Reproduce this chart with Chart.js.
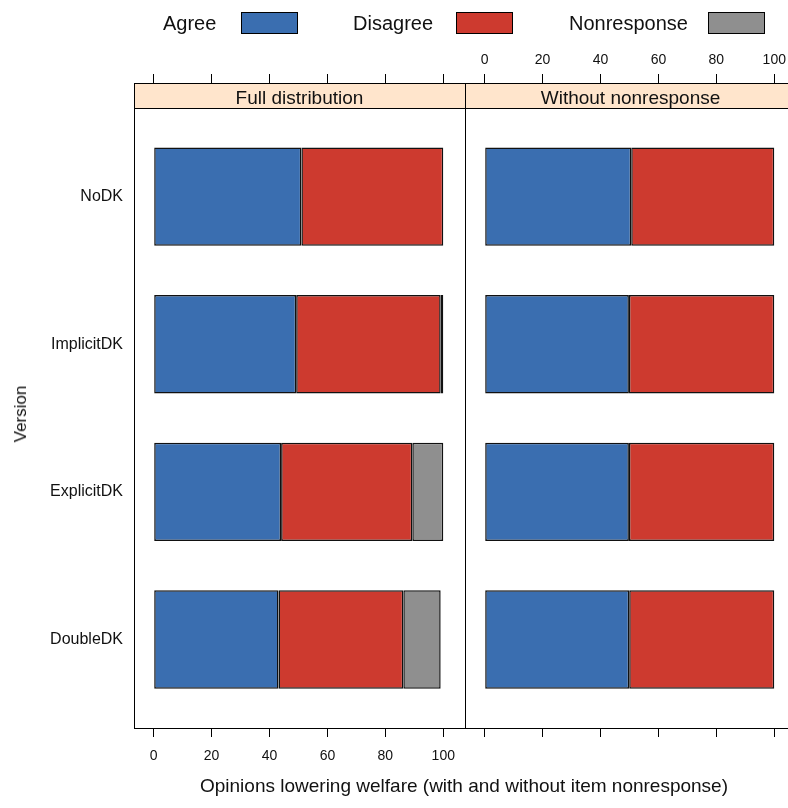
<!DOCTYPE html>
<html>
<head>
<meta charset="utf-8">
<script src="https://cdn.jsdelivr.net/npm/chart.js@4/dist/chart.umd.min.js"></script>
<style>
  html, body { margin:0; padding:0; background:#fff; }
  body { position:relative; width:788px; height:808px; overflow:hidden;
         font-family:"Liberation Sans", Arial, sans-serif; color:#111; }
  canvas { position:absolute; top:0; }
  .txt { position:absolute; white-space:nowrap; }
  .lbox { position:absolute; box-sizing:border-box; border:1px solid #000; }
</style>
</head>
<body>
<canvas id="c1" width="470" height="808" style="left:0px"></canvas>
<canvas id="c2" width="340" height="808" style="left:464px"></canvas>
<div id="legend"></div>
<div id="xtitle" class="txt" style="left:464px; top:774px; font-size:19px; line-height:23px; transform:translateX(-50%);"></div>
<div id="ytitle" class="txt" style="left:21px; top:414px; font-size:17px; line-height:20px; transform:translate(-50%,-50%) rotate(-90deg);"></div>
<script>
// ---------------- data ----------------
const versions = ['NoDK', 'ImplicitDK', 'ExplicitDK', 'DoubleDK'];
const seriesNames = ['Agree', 'Disagree', 'Nonresponse'];
const panelTitles = ['Full distribution', 'Without nonresponse'];
const xTicks = [0, 20, 40, 60, 80, 100];

const fullAgree       = [51.0, 49.2, 44.0, 43.1];
const fullDisagree    = [49.0, 49.9, 45.3, 43.1];
const fullNonresponse = [0.0,  0.9,  10.7, 12.9];

const withoutAgree    = [50.6, 49.8, 49.8, 49.9];
const withoutDisagree = [49.4, 50.2, 50.2, 50.1];

const xTitle = 'Opinions lowering welfare (with and without item nonresponse)';
const yTitle = 'Version';

// ---------------- styles ----------------
const colors = ['#3A6EB0', '#CD3A2F', '#8F8F8F'];
const FONT = '"Liberation Sans", Arial, sans-serif';
Chart.defaults.font.family = FONT;
Chart.defaults.color = '#111';

const X_MIN = -6.8, X_MAX = 107.5;
const Y_PANEL_MIN = -0.6, Y_MIN = -0.77, Y_MAX = 3.6;   // strip occupies Y_MIN..Y_PANEL_MIN

// ---------------- legend & titles (HTML text) ----------------
const legendLayout = [
  { text: 163, box: 241 },
  { text: 353, box: 456 },
  { text: 569, box: 708 }
];
const legend = document.getElementById('legend');
seriesNames.forEach((name, i) => {
  const t = document.createElement('div');
  t.className = 'txt';
  t.style.cssText = `left:${legendLayout[i].text}px; top:11px; font-size:20px; line-height:24px;`;
  t.textContent = name;
  legend.appendChild(t);
  const b = document.createElement('div');
  b.className = 'lbox';
  b.style.cssText = `left:${legendLayout[i].box}px; top:12px; width:57px; height:22px; background:${colors[i]};`;
  legend.appendChild(b);
});
document.getElementById('xtitle').textContent = xTitle;
document.getElementById('ytitle').textContent = yTitle;

// ---------------- plugin: strip + frame ----------------
const panelFrame = {
  id: 'panelFrame',
  beforeDatasetsDraw(chart, args, opts) {
    const { ctx, chartArea: a, scales } = chart;
    const sb = Math.round(scales.y.getPixelForValue(Y_PANEL_MIN));
    ctx.save();
    ctx.fillStyle = '#FFE5CC';
    ctx.fillRect(a.left, a.top, a.right - a.left, sb - a.top);
    ctx.strokeStyle = '#000';
    ctx.lineWidth = 1;
    ctx.beginPath();
    ctx.moveTo(a.left, sb + 0.5);
    ctx.lineTo(a.right, sb + 0.5);
    ctx.stroke();
    ctx.fillStyle = '#111';
    ctx.font = '19px ' + FONT;
    ctx.textAlign = 'center';
    ctx.textBaseline = 'alphabetic';
    ctx.fillText(opts.title, (a.left + a.right) / 2, a.top + 21);
    ctx.restore();
  },
  afterDraw(chart) {
    const { ctx, chartArea: a } = chart;
    const l = Math.round(a.left), r = Math.round(a.right), t = Math.round(a.top), b = Math.round(a.bottom);
    ctx.save();
    ctx.strokeStyle = '#000';
    ctx.lineWidth = 1;
    ctx.strokeRect(l + 0.5, t + 0.5, r - l, b - t);
    ctx.restore();
  }
};

function pts(arr) { return arr.map((v, i) => ({ x: v, y: i })); }
function setXTicks(s) { s.ticks = xTicks.map(v => ({ value: v })); }
function setYTicks(s) { s.ticks = versions.map((_, i) => ({ value: i })); }

function xAxis(position, showLabels, height, pad) {
  return {
    type: 'linear', position, stacked: position === 'bottom',
    min: X_MIN, max: X_MAX, offset: false,
    afterBuildTicks: setXTicks,
    afterFit: s => { s.height = height; },
    grid: { drawOnChartArea: false, drawTicks: true, tickLength: 9, color: '#000', lineWidth: 1, offset: false },
    border: { display: false },
    ticks: { display: showLabels, padding: pad, font: { size: 14 }, color: '#111', maxRotation: 0, autoSkip: false }
  };
}

function makeChart(id, datasets, cfg) {
  return new Chart(document.getElementById(id), {
    type: 'bar',
    data: { datasets },
    options: {
      indexAxis: 'y',
      responsive: false,
      animation: false,
      layout: { padding: cfg.padding },
      plugins: { legend: { display: false }, tooltip: { enabled: false }, panelFrame: { title: cfg.title } },
      datasets: { bar: { categoryPercentage: 1, barPercentage: 2 / 3, borderWidth: 1.5, borderColor: '#111', borderSkipped: false, inflateAmount: 0 } },
      scales: {
        x: xAxis('bottom', cfg.bottomLabels, 80, 11),
        x2: xAxis('top', cfg.topLabels, 83, 5),
        y: {
          type: 'linear', reverse: true, stacked: true, display: cfg.showY, offset: false,
          min: Y_MIN, max: Y_MAX,
          afterBuildTicks: setYTicks,
          afterFit: s => { s.width = cfg.showY ? 134 : 0; },
          grid: { display: false, drawTicks: false, offset: false },
          border: { display: false },
          ticks: { padding: 11, font: { size: 16 }, color: '#111', callback: v => versions[v] }
        }
      }
    },
    plugins: [panelFrame]
  });
}

makeChart('c1', [
  { label: seriesNames[0], data: pts(fullAgree), backgroundColor: colors[0] },
  { label: seriesNames[1], data: pts(fullDisagree), backgroundColor: colors[1] },
  { label: seriesNames[2], data: pts(fullNonresponse), backgroundColor: colors[2] }
], { title: panelTitles[0], padding: { left: 0, right: 5, top: 0, bottom: 0 }, bottomLabels: true, topLabels: false, showY: true });

makeChart('c2', [
  { label: seriesNames[0], data: pts(withoutAgree), backgroundColor: colors[0] },
  { label: seriesNames[1], data: pts(withoutDisagree), backgroundColor: colors[1] }
], { title: panelTitles[1], padding: { left: 1, right: 8, top: 0, bottom: 0 }, bottomLabels: false, topLabels: true, showY: false });
</script>
</body>
</html>
